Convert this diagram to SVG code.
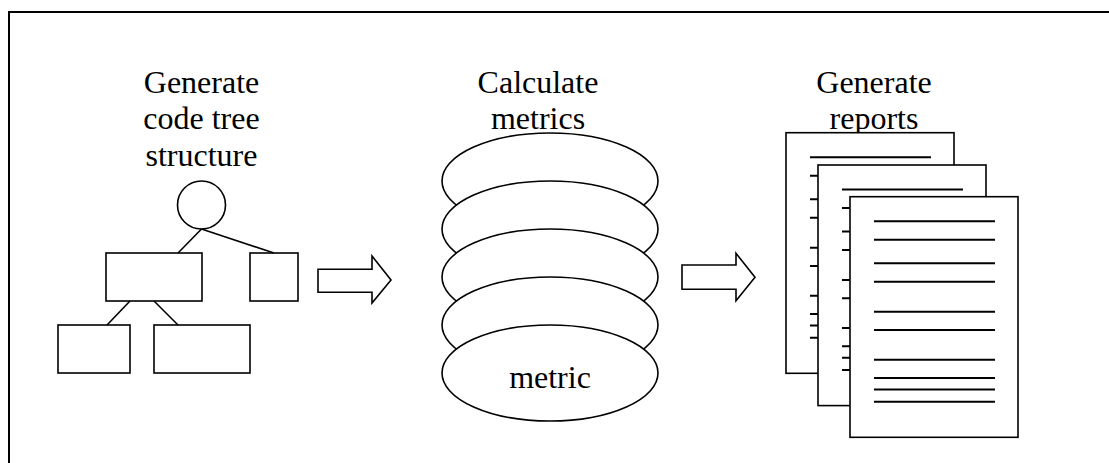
<svg xmlns="http://www.w3.org/2000/svg" width="1109" height="463" viewBox="0 0 1109 463">
<style>
.s{fill:#fff;stroke:#000;stroke-width:1.6}
.l{stroke:#000;stroke-width:1.6;fill:none}
.t{stroke:#000;stroke-width:2}
.tx{font-family:"Liberation Serif","Times New Roman",serif;font-size:32px;fill:#000;text-anchor:middle}
</style>
<defs>
<g id="lines">
<line class="t" x1="24" y1="24.6" x2="145" y2="24.6"/>
<line class="t" x1="24" y1="43" x2="145" y2="43"/>
<line class="t" x1="24" y1="66.6" x2="145" y2="66.6"/>
<line class="t" x1="24" y1="85" x2="145" y2="85"/>
<line class="t" x1="24" y1="115" x2="145" y2="115"/>
<line class="t" x1="24" y1="133.3" x2="145" y2="133.3"/>
<line class="t" x1="24" y1="163" x2="145" y2="163"/>
<line class="t" x1="24" y1="181.3" x2="145" y2="181.3"/>
<line class="t" x1="24" y1="192.8" x2="145" y2="192.8"/>
<line class="t" x1="24" y1="205" x2="145" y2="205"/>
</g>
</defs>
<rect width="1109" height="463" fill="#fff"/>
<path d="M9,463 V12 H1109" fill="none" stroke="#000" stroke-width="2"/>

<g id="tree">
<text class="tx" x="201.5" y="92.5">Generate</text>
<text class="tx" x="201.5" y="129">code tree</text>
<text class="tx" x="201.5" y="165.5">structure</text>
<circle class="s" cx="201.5" cy="205" r="24"/>
<rect class="s" x="106" y="253" width="96" height="48"/>
<rect class="s" x="250" y="253" width="48" height="48"/>
<rect class="s" x="58" y="325" width="72" height="48"/>
<rect class="s" x="154" y="325" width="96" height="48"/>
</g>

<g id="metrics">
<text class="tx" x="538" y="92.5">Calculate</text>
<text class="tx" x="538" y="129">metrics</text>
<ellipse class="s" cx="550" cy="181" rx="108" ry="48"/>
<ellipse class="s" cx="550" cy="229" rx="108" ry="48"/>
<ellipse class="s" cx="550" cy="277" rx="108" ry="48"/>
<ellipse class="s" cx="550" cy="325" rx="108" ry="48"/>
<ellipse class="s" cx="550" cy="373" rx="108" ry="48"/>
<text class="tx" x="550" y="388">metric</text>
</g>

<g id="reports">
<text class="tx" x="874" y="92.5">Generate</text>
<text class="tx" x="874" y="129">reports</text>
<g transform="translate(786,132.7)">
<rect class="s" x="0" y="0" width="168" height="240.6"/>
<use href="#lines"/>
</g>
<g transform="translate(818,165)">
<rect class="s" x="0" y="0" width="168" height="240.6"/>
<use href="#lines"/>
</g>
<g transform="translate(850,196.7)">
<rect class="s" x="0" y="0" width="168" height="240.6"/>
<use href="#lines"/>
</g>
</g>

<g id="connectors">
<line class="l" x1="201.5" y1="229" x2="178" y2="253"/>
<line class="l" x1="201.5" y1="229" x2="274" y2="253"/>
<line class="l" x1="130" y1="301" x2="107" y2="325"/>
<line class="l" x1="154" y1="301" x2="178" y2="325"/>
<path class="s" d="M318,269.3 H372 V256 L391,280 L372,303 V292.3 H318 Z"/>
<path class="s" d="M682,265 H736 V253.3 L755,277.3 L736,300.7 V289.3 H682 Z"/>
</g>
</svg>
